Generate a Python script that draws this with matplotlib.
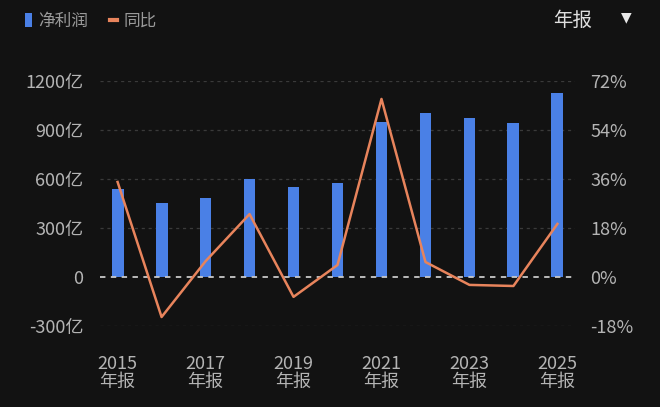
import numpy as np
import matplotlib
matplotlib.use("Agg")
import matplotlib.pyplot as plt
from matplotlib.patches import Patch
from matplotlib.lines import Line2D

plt.rcParams['font.family'] = ['Noto Sans CJK SC', 'DejaVu Sans']

# 数据（亿元 / %）
years = [2015, 2016, 2017, 2018, 2019, 2020, 2021, 2022, 2023, 2024, 2025]
profit = [539, 453, 484, 600, 551, 576, 949, 1004, 973, 943, 1127]
yoy = [34.9, -14.7, 5.8, 23.1, -7.3, 4.4, 65.4, 5.5, -2.9, -3.3, 19.5]
left_ticks = [-300, 0, 300, 600, 900, 1200]
right_ticks = [-18, 0, 18, 36, 54, 72]

bg = '#121212'
blue = '#4a80e6'
orange = '#e8845c'
txt = '#b4b4b4'

fig = plt.figure(figsize=(6.6, 4.07), dpi=100, facecolor=bg)
ax = fig.add_axes([100 / 660, 1 - 326 / 407, 475 / 660, 245 / 407])
ax.set_facecolor(bg)
ax2 = ax.twinx()

x = np.arange(len(years))
ax.bar(x, profit, width=0.27, color=blue, zorder=3)
ax.set_xlim(-0.4, len(years) - 0.6)
ax.set_ylim(-300, 1200)
ax2.set_ylim(-18, 72)

# 网格线
for v in left_ticks:
    if v == 0:
        ax.axhline(v, color='#c8c8c8', lw=1.3, ls=(0, (3, 3)), zorder=4)
    else:
        ax.axhline(v, color='#3a3a3a', lw=0.9, ls=(0, (2.5, 3)), zorder=1)

ax2.plot(x, yoy, color=orange, lw=1.8, zorder=5)

ax.set_yticks(left_ticks)
ax.set_yticklabels([('0' if v == 0 else f'{v}亿') for v in left_ticks])
ax2.set_yticks(right_ticks)
ax2.set_yticklabels([f'{v}%' for v in right_ticks])

ax.set_xticks(x[::2])
ax.set_xticklabels([f'{y}\n年报' for y in years[::2]], linespacing=1.0)

for a in (ax, ax2):
    for s in a.spines.values():
        s.set_visible(False)
    a.tick_params(length=0, colors=txt, labelsize=13)
    for lab in a.get_xticklabels() + a.get_yticklabels():
        lab.set_fontweight('light')
ax.tick_params(axis='y', pad=12)
ax2.tick_params(axis='y', pad=11)
ax.tick_params(axis='x', pad=21)

# 图例
handles = [Patch(facecolor=blue, edgecolor='none'),
           Line2D([0], [0], color=orange, lw=3)]
leg = fig.legend(handles, ['净利润', '同比'], loc='upper left', ncol=2,
                 bbox_to_anchor=(0.015, 1.005), frameon=False,
                 handlelength=0.45, handleheight=0.9, handletextpad=0.35,
                 columnspacing=1.3, fontsize=12)
for t in leg.get_texts():
    t.set_color('#9a9a9a')
    t.set_fontweight('light')

fig.text(553 / 660, 1 - 20 / 407, '年报', color='#e0e0e0', fontsize=14,
         va='center', ha='left')
fig.text(626 / 660, 1 - 17 / 407, '▼', color='#e8e8e8', fontsize=10,
         va='center', ha='center', family=['DejaVu Sans'])

fig.savefig('out.png', dpi=100, facecolor=bg)
